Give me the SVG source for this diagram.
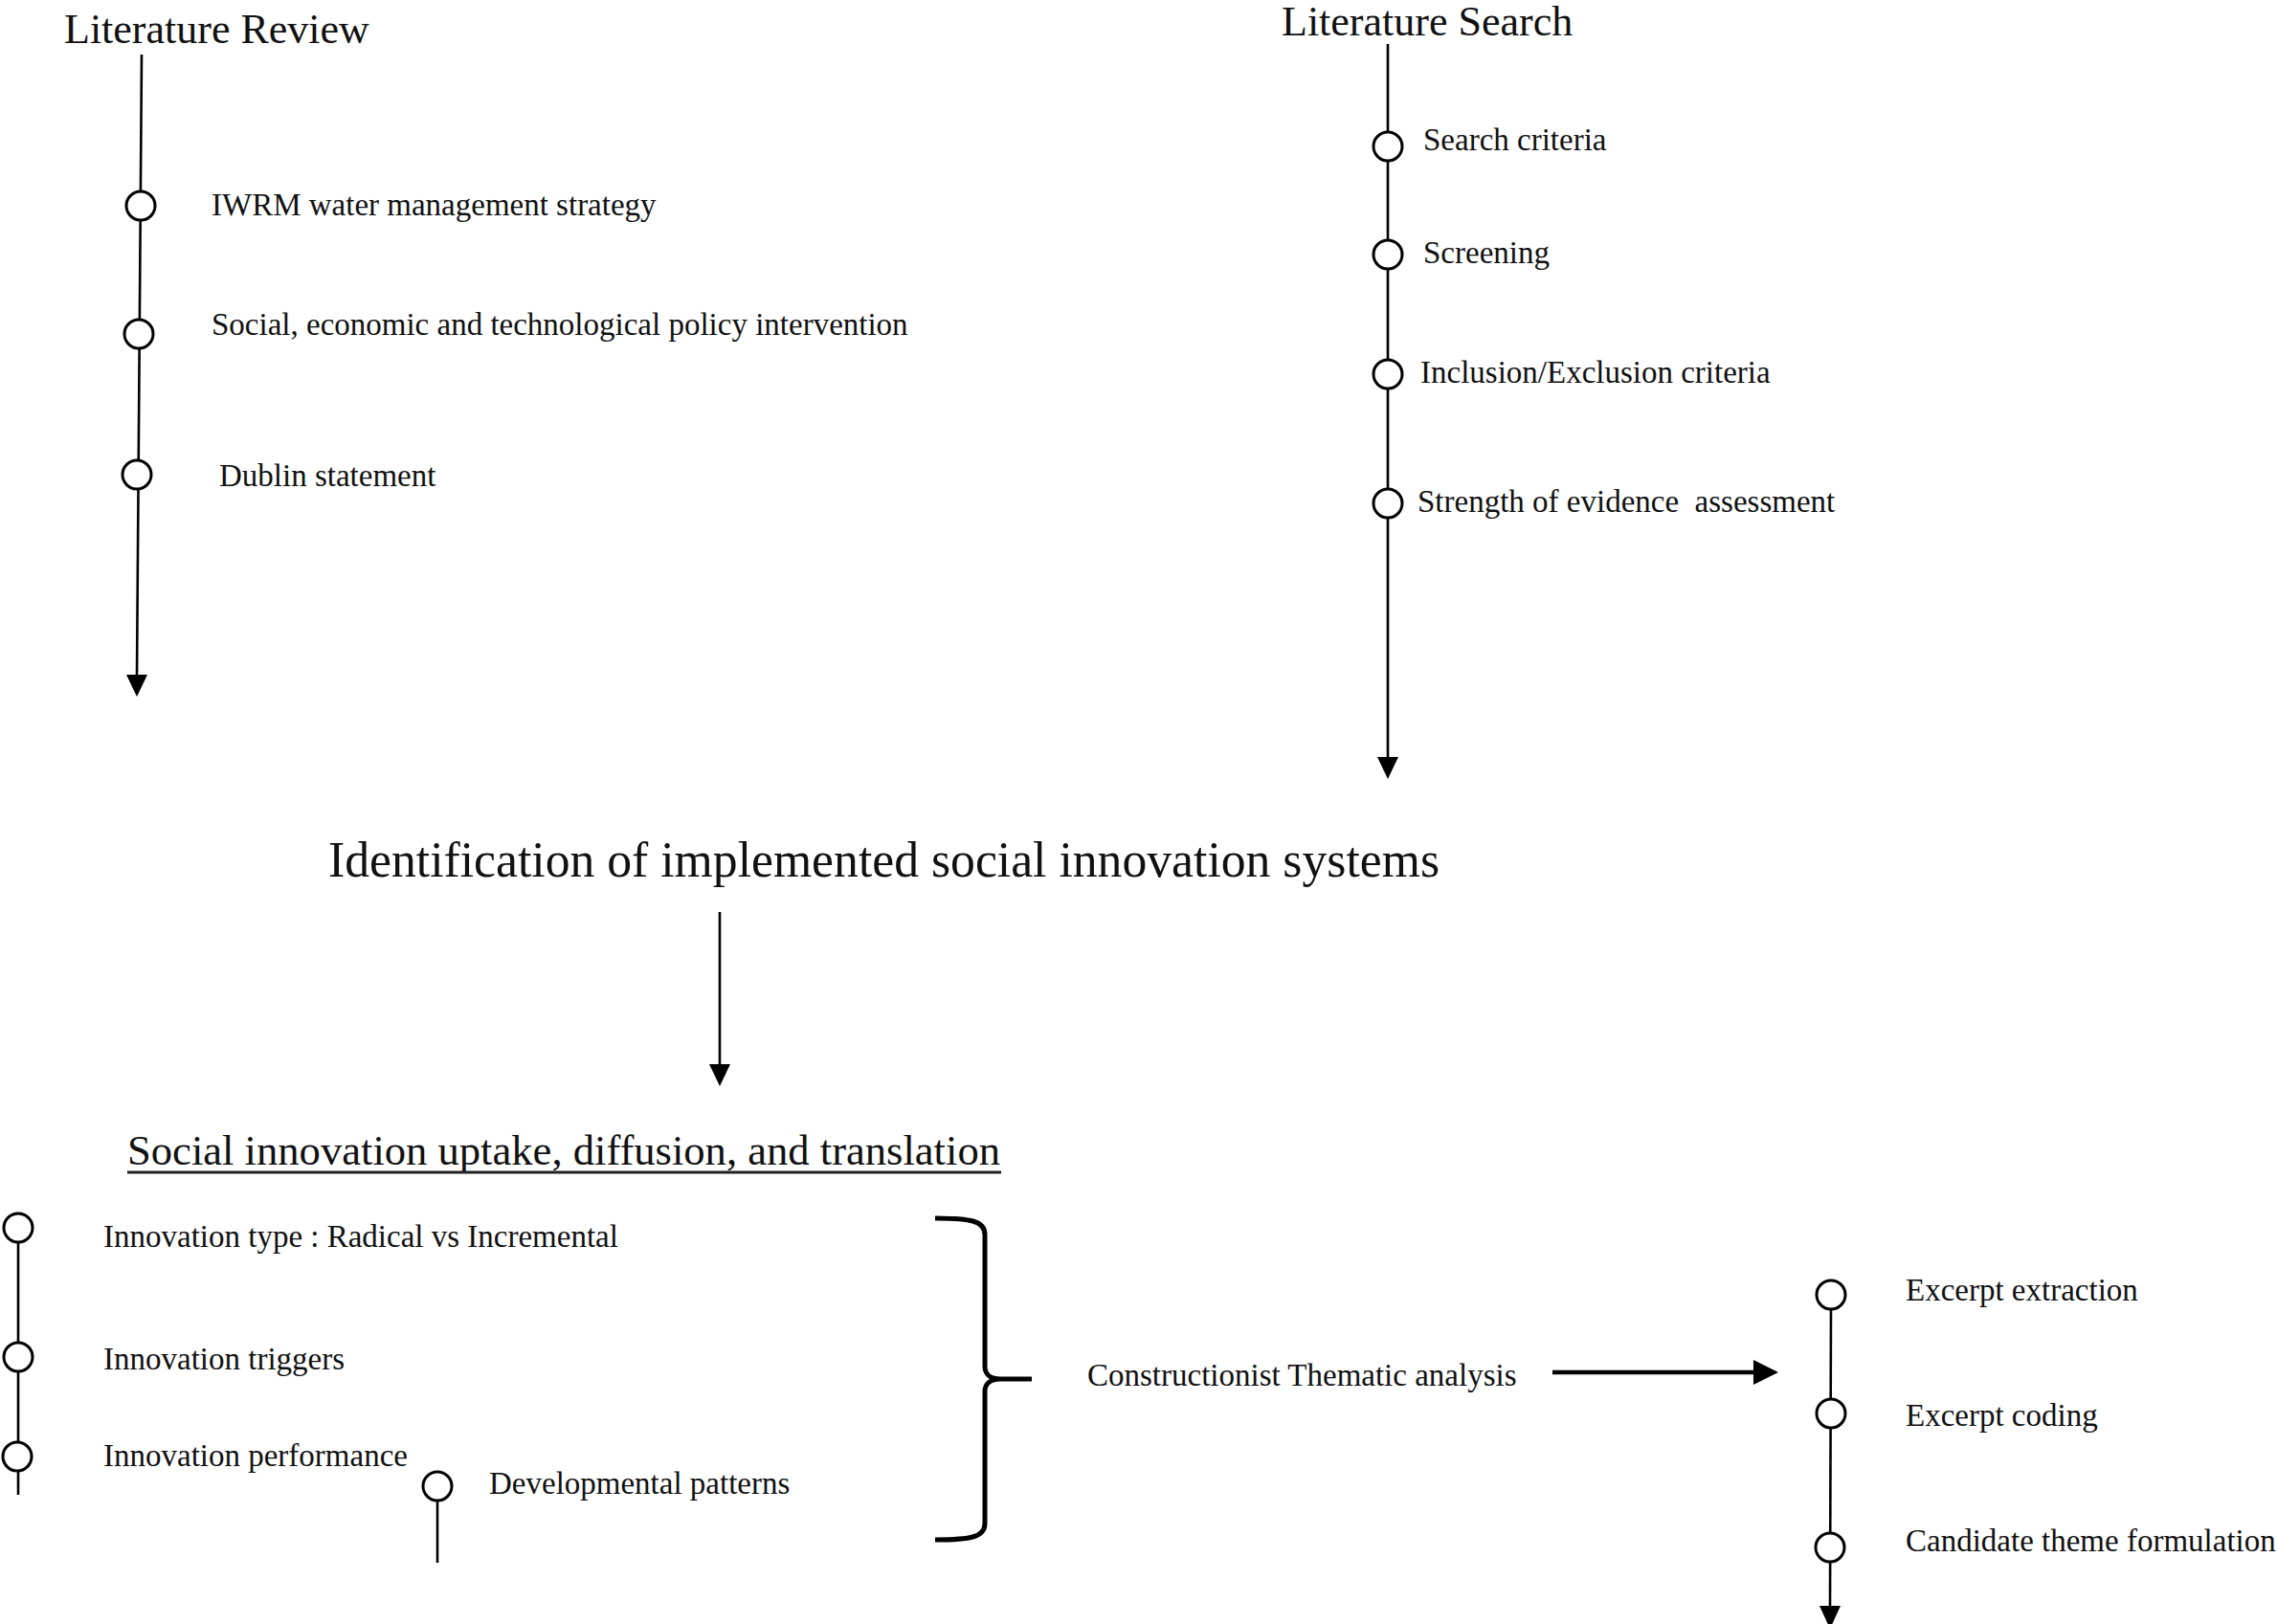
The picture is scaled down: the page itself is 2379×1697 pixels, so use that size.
<svg xmlns="http://www.w3.org/2000/svg" width="2379" height="1697" viewBox="0 0 2379 1697">
<style>
text{font-family:"Liberation Serif","Times New Roman",serif;fill:#111}
.t44{font-size:44px}
.t52{font-size:52px}
.t33{font-size:33px}
.ln{stroke:#000;stroke-width:2.6;fill:none}
.nd{stroke:#000;stroke-width:3;fill:#fff}
.ah{fill:#000}
</style>
<rect width="2379" height="1697" fill="#fff"/>
<g id="connectors">
<line class="ln" x1="148" y1="57" x2="143" y2="708"/>
<polygon class="ah" points="143,728 132,705 154,705"/>
<line class="ln" x1="1450" y1="46" x2="1450" y2="793"/>
<polygon class="ah" points="1450,814 1439,791 1461,791"/>
<line class="ln" x1="752" y1="953" x2="752" y2="1115"/>
<polygon class="ah" points="752,1135 741,1112 763,1112"/>
<line class="ln" x1="19" y1="1290" x2="19" y2="1562"/>
<line class="ln" x1="457" y1="1560" x2="457" y2="1633"/>
<path d="M977,1273 C1015,1273 1029,1276 1029,1290 L1029,1428 C1029,1436 1035,1441 1045,1441 L1078,1441 M1045,1441 C1035,1441 1029,1446 1029,1454 L1029,1592 C1029,1606 1015,1609 977,1609" fill="none" stroke="#000" stroke-width="5"/>
<line x1="1622" y1="1434" x2="1836" y2="1434" stroke="#000" stroke-width="4.5"/>
<polygon class="ah" points="1858,1434 1832,1421 1832,1447"/>
<line class="ln" x1="1913" y1="1360" x2="1912" y2="1682"/>
<polygon class="ah" points="1912,1702 1901,1678 1923,1678"/>
</g>
<g id="literature-review">
<text class="t44" x="67" y="45">Literature Review</text>
<g id="lr-1"><circle class="nd" cx="147" cy="215" r="15"/><text class="t33" x="221" y="225">IWRM water management strategy</text></g>
<g id="lr-2"><circle class="nd" cx="145" cy="349" r="15"/><text class="t33" x="221" y="350">Social, economic and technological policy intervention</text></g>
<g id="lr-3"><circle class="nd" cx="143" cy="496" r="15"/><text class="t33" x="229" y="508">Dublin statement</text></g>
</g>
<g id="literature-search">
<text class="t44" x="1339" y="37">Literature Search</text>
<g id="ls-1"><circle class="nd" cx="1450" cy="153" r="15"/><text class="t33" x="1487" y="157">Search criteria</text></g>
<g id="ls-2"><circle class="nd" cx="1450" cy="266" r="15"/><text class="t33" x="1487" y="275">Screening</text></g>
<g id="ls-3"><circle class="nd" cx="1450" cy="391" r="15"/><text class="t33" x="1484" y="400">Inclusion/Exclusion criteria</text></g>
<g id="ls-4"><circle class="nd" cx="1450" cy="526" r="15"/><text class="t33" x="1481" y="535" xml:space="preserve">Strength of evidence  assessment</text></g>
</g>
<g id="identification">
<text class="t52" x="343" y="916" textLength="1161" lengthAdjust="spacingAndGlyphs">Identification of implemented social innovation systems</text>
</g>
<g id="uptake">
<text class="t44" x="133" y="1217" textLength="912" lengthAdjust="spacingAndGlyphs">Social innovation uptake, diffusion, and translation</text>
<line x1="133" y1="1225" x2="1046" y2="1225" stroke="#222" stroke-width="3"/>
<g id="up-1"><circle class="nd" cx="19" cy="1283" r="15"/><text class="t33" x="108" y="1303">Innovation type : Radical vs Incremental</text></g>
<g id="up-2"><circle class="nd" cx="19" cy="1418" r="15"/><text class="t33" x="108" y="1431">Innovation triggers</text></g>
<g id="up-3"><circle class="nd" cx="18" cy="1522" r="15"/><text class="t33" x="108" y="1532">Innovation performance</text></g>
<g id="up-4"><circle class="nd" cx="457" cy="1553" r="15"/><text class="t33" x="511" y="1561">Developmental patterns</text></g>
</g>
<g id="thematic">
<text class="t33" x="1136" y="1448">Constructionist Thematic analysis</text>
</g>
<g id="coding">
<g id="cd-1"><circle class="nd" cx="1913" cy="1353" r="15"/><text class="t33" x="1991" y="1359">Excerpt extraction</text></g>
<g id="cd-2"><circle class="nd" cx="1913" cy="1477" r="15"/><text class="t33" x="1991" y="1490">Excerpt coding</text></g>
<g id="cd-3"><circle class="nd" cx="1912" cy="1617" r="15"/><text class="t33" x="1991" y="1621">Candidate theme formulation</text></g>
</g>
</svg>
